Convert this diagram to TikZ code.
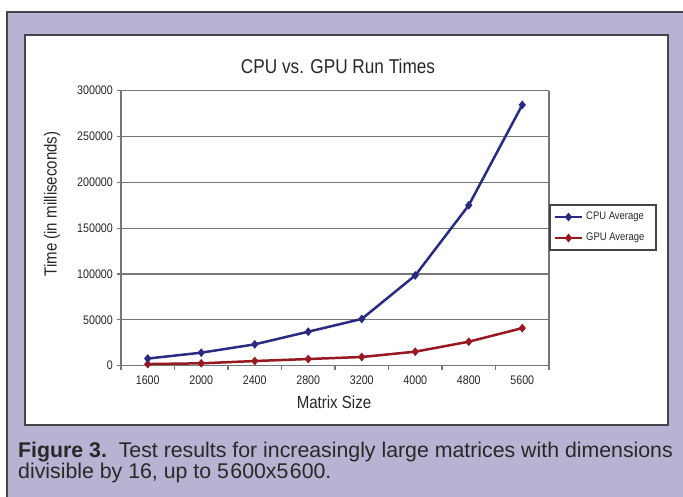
\documentclass[tikz,border=0pt]{standalone}
\usepackage{fontspec}
\setmainfont{Liberation Sans}
\newfontfamily\chartfont[FakeStretch=0.86]{Liberation Sans}
\usetikzlibrary{shapes.geometric}

\definecolor{panelbg}{RGB}{182,180,210}
\definecolor{rim}{RGB}{68,68,74}
\definecolor{gridgray}{RGB}{118,118,118}
\definecolor{cpublue}{RGB}{42,42,128}
\definecolor{gpured}{RGB}{150,24,32}
\definecolor{inktext}{RGB}{40,40,40}

\tikzset{
  gridline/.style={draw=gridgray, line width=1.1pt},
  axisline/.style={draw=gridgray, line width=1.1pt},
  ticklabel/.style={font=\chartfont\fontsize{12.4}{13}\selectfont, text=inktext, inner sep=0pt},
  axistitle/.style={font=\chartfont\fontsize{17.5}{19}\selectfont, text=inktext, inner sep=0pt},
  cpuline/.style={draw=cpublue, line width=2.5pt, line join=round},
  gpuline/.style={draw=gpured, line width=2.5pt, line join=round},
  cpumark/.style={shape=diamond, fill=cpublue, inner sep=0pt, minimum width=7.5pt, minimum height=9pt},
  gpumark/.style={shape=diamond, fill=gpured, inner sep=0pt, minimum width=7.5pt, minimum height=9pt},
  legendtext/.style={font=\chartfont\fontsize{11}{12}\selectfont, text=inktext, inner sep=0pt, anchor=west},
  captiontext/.style={font=\fontsize{21.3}{23}\selectfont, text=inktext, inner sep=0pt, anchor=base west},
}

% value (in thousands of ms) to vertical position
\newcommand{\ypos}[1]{365.7-0.916667*#1}

\begin{document}
\begin{tikzpicture}[x=1pt,y=-1pt]
\useasboundingbox (0,0) rectangle (683,496);
\clip (0,0) rectangle (683,496);
\fill[white] (0,0) rectangle (683,496);

% lavender frame and white chart panel
\draw[rim, line width=1.6pt, fill=panelbg] (7,12) rectangle (700,520);
\draw[rim, line width=1.6pt, fill=white] (25,35) rectangle (668,425);

% title
\node[font=\chartfont\fontsize{20}{22}\selectfont, text=inktext, inner sep=0pt] (title) at (338,66) {CPU vs. GPU Run Times};

% horizontal grid, y ticks and y labels
\foreach \v/\lab in {0/0,50/50000,100/100000,150/150000,200/200000,250/250000,300/300000} {
  \draw[gridline] (117,{\ypos{\v}}) -- (549,{\ypos{\v}});
  \node[ticklabel, anchor=east] (ylab\v) at (113,{\ypos{\v}}) {\lab};
}

% plot frame: left axis and right border
\draw[axisline] (121,90.7) -- (121,365.7);
\draw[axisline] (549,90.7) -- (549,365.7);

% x ticks and category labels
\foreach \k in {0,...,8} {
  \draw[axisline] ({121+53.5*\k},365.7) -- ({121+53.5*\k},370);
}
\foreach \lab [count=\i from 0] in {1600,2000,2400,2800,3200,4000,4800,5600} {
  \node[ticklabel] (xlab\i) at ({147.75+53.5*\i},380) {\lab};
}

% axis titles
\node[axistitle] (xtitle) at (334,402) {Matrix Size};
\node[axistitle, rotate=90] (ytitle) at (52,204) {Time (in milliseconds)};

% data points
\foreach \v [count=\i from 0] in {7.8,14.2,23.3,37.1,51,98.5,175,284.5} {
  \coordinate (c\i) at ({147.75+53.5*\i},{\ypos{\v}});
}
\foreach \v [count=\i from 0] in {1.8,2.6,5.1,7.3,9.5,15.3,26.2,41} {
  \coordinate (g\i) at ({147.75+53.5*\i},{\ypos{\v}});
}

% series lines
\draw[gpuline] (g0) -- (g1) -- (g2) -- (g3) -- (g4) -- (g5) -- (g6) -- (g7);
\draw[cpuline] (c0) -- (c1) -- (c2) -- (c3) -- (c4) -- (c5) -- (c6) -- (c7);
\foreach \i in {0,...,7} {
  \node[gpumark] (gm\i) at (g\i) {};
  \node[cpumark] (cm\i) at (c\i) {};
}

% legend
\draw[rim, line width=1.1pt, fill=white] (550,205) rectangle (656,250);
\coordinate (lca) at (555,217);
\coordinate (lcb) at (582,217);
\coordinate (lga) at (555,238);
\coordinate (lgb) at (582,238);
\draw[cpuline] (lca) -- (lcb);
\node[cpumark] (lcm) at (568.5,217) {};
\node[legendtext] (lct) at (586,217) {CPU Average};
\draw[gpuline] (lga) -- (lgb);
\node[gpumark] (lgm) at (568.5,238) {};
\node[legendtext] (lgt) at (586,238) {GPU Average};

% caption
\node[captiontext] (cap1) at (18,457) {\textbf{Figure 3.}\ \ Test results for increasingly large matrices with dimensions};
\node[captiontext] (cap2) at (18,478) {divisible by 16, up to 5\kern1.5pt600x5\kern1.5pt600.};
\end{tikzpicture}
\end{document}
